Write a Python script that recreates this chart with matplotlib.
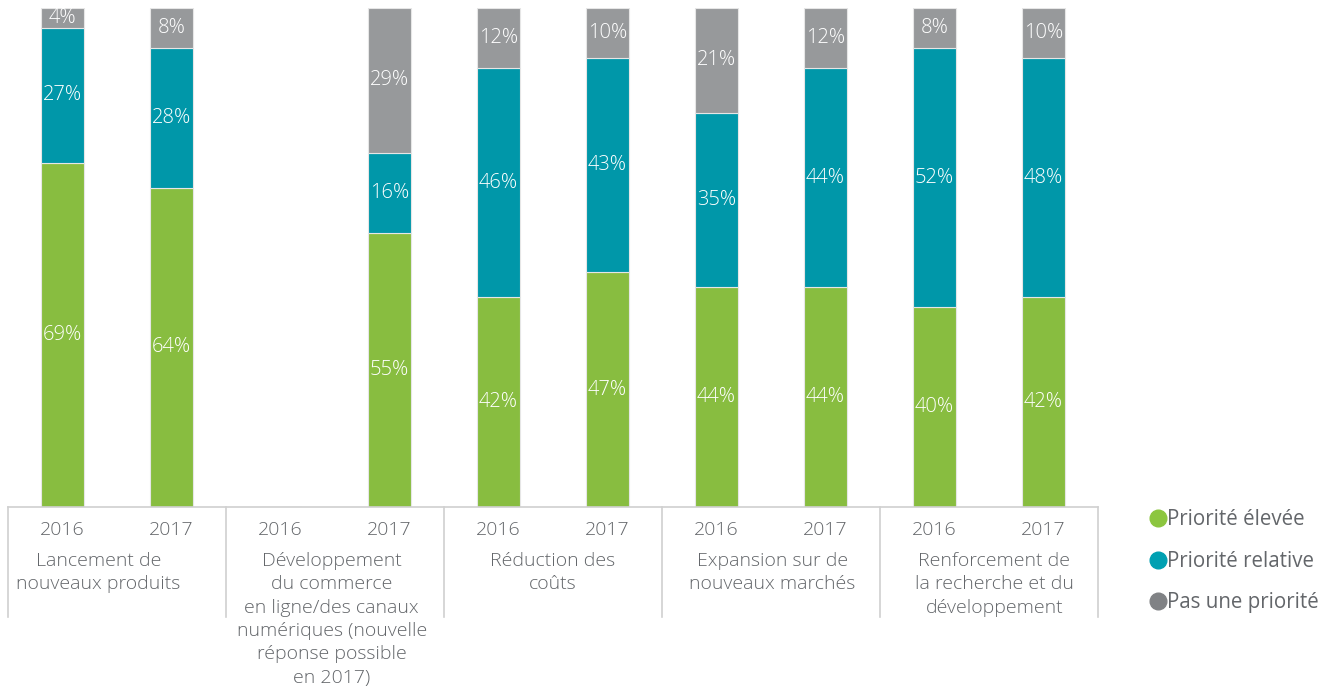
import matplotlib.pyplot as plt
import matplotlib.transforms as mtransforms
from matplotlib.lines import Line2D
import numpy as np

# données
categories = [
    "Lancement de\nnouveaux produits",
    "Développement\ndu commerce\nen ligne/des canaux\nnumériques (nouvelle\nréponse possible\nen 2017)",
    "Réduction des\ncoûts",
    "Expansion sur de\nnouveaux marchés",
    "Renforcement de\nla recherche et du\ndéveloppement",
]
years = ["2016", "2017"]

# 2016/2017 par catégorie (nan = pas de réponse en 2016)
haute = [69, 64, np.nan, 55, 42, 47, 44, 44, 40, 42]
relative = [27, 28, np.nan, 16, 46, 43, 35, 44, 52, 48]
aucune = [4, 8, np.nan, 29, 12, 10, 21, 12, 8, 10]

series = [
    ("Priorité élevée", haute, "#88BD40"),
    ("Priorité relative", relative, "#0097A9"),
    ("Pas une priorité", aucune, "#97999B"),
]
legend_colors = ["#8CC63F", "#00A0B2", "#808285"]

plt.rcParams['font.family'] = ['Open Sans', 'DejaVu Sans']
txt_color = "#63666A"
line_color = "#D0D0D0"

fig = plt.figure(figsize=(13.28, 6.88), dpi=100)
ax = fig.add_axes([8 / 1328, 181 / 688, 1090 / 1328, 499 / 688])

x = np.arange(len(haute))
bottom = np.zeros(len(x))
for name, vals, col in series:
    v = np.array(vals, dtype=float)
    ax.bar(x, np.nan_to_num(v), 0.4, bottom=bottom, color=col,
           edgecolor="#E6E6E6", linewidth=0.8, label=name)
    for i in range(len(x)):
        if not np.isnan(v[i]):
            ax.text(x[i], bottom[i] + v[i] / 2, f"{int(v[i])}%", ha="center",
                    va="center", color="white", fontsize=14.5, fontweight="light")
    bottom += np.nan_to_num(v)

ax.set_xlim(-0.5, len(x) - 0.5)
ax.set_ylim(0, 100)
ax.axis("off")

# axe horizontal et séparateurs de groupes
trans = mtransforms.blended_transform_factory(ax.transData, ax.transAxes)
ax.plot([-0.5, len(x) - 0.5], [0, 0], color=line_color, lw=1.2, transform=trans, clip_on=False)
for b in np.arange(-0.5, len(x), 2):
    ax.plot([b, b], [0, -110 / 499], color=line_color, lw=1.2, transform=trans, clip_on=False)

for i in range(len(x)):
    ax.text(x[i], -23 / 499, years[i % 2], ha="center", va="center",
            color=txt_color, fontsize=14, transform=trans, fontweight="light")

# petit décalage horizontal des libellés comme dans l'original
label_shift = [-0.17, -0.03, 0, 0.01, 0.05]
for k, cat in enumerate(categories):
    ax.text(2 * k + 0.5 + label_shift[k], -45 / 499, cat, ha="center", va="top",
            color=txt_color, fontsize=14, linespacing=1.38, transform=trans,
            fontweight="light")

handles = [Line2D([], [], marker="o", ls="", color=c, markersize=12) for c in legend_colors]
fig.legend(handles, [s[0] for s in series], loc="upper left",
           bbox_to_anchor=(1138 / 1328, 1 - 499 / 688), frameon=False,
           fontsize=14.8, labelcolor=txt_color, handletextpad=0.0,
           labelspacing=1.0, handlelength=0.9, borderpad=0)

fig.savefig("out.png", dpi=100)
